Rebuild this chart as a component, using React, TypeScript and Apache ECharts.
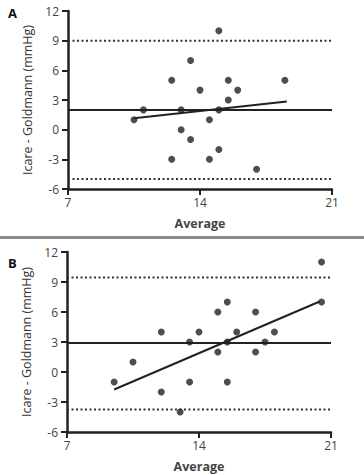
import React, { useEffect, useRef } from "react";
import * as echarts from "echarts";

// Panel A
const aAvg = [10.5, 11, 12.5, 12.5, 13, 13, 13.5, 13.5, 14, 14.5, 14.5, 15, 15, 15, 15.5, 15.5, 16, 17, 18.5];
const aDiff = [1, 2, 5, -3, 2, 0, 7, -1, 4, 1, -3, 10, 2, -2, 5, 3, 4, -4, 5];
const aMean = 2;
const aUpper = 9;
const aLower = -5;
const aRegX = [10.5, 18.6];
const aRegY = [1.15, 2.85];

// Panel B
const bAvg = [9.5, 10.5, 12, 12, 13, 13.5, 13.5, 14, 15, 15, 15.5, 15.5, 15.5, 16, 17, 17, 17.5, 18, 20.5, 20.5];
const bDiff = [-1, 1, 4, -2, -4, 3, -1, 4, 6, 2, 7, 3, -1, 4, 6, 2, 3, 4, 11, 7];
const bMean = 2.9;
const bUpper = 9.45;
const bLower = -3.75;
const bRegX = [9.5, 20.4];
const bRegY = [-1.75, 7.05];

const xRange = [7, 21];
const yRange = [-6, 12];
const panelLabels = ["A", "B"];
const xTitle = "Average";
const yTitle = "Icare - Goldmann (mmHg)";

const INK = "#222";
const FONT = "'Open Sans', 'Noto Sans', sans-serif";

function pair(xs: number[], ys: number[]) {
  return xs.map((x, i) => [x, ys[i]]);
}

function hline(v: number) {
  return [[xRange[0], v], [xRange[1], v]];
}

export default function App() {
  const ref = useRef<HTMLDivElement>(null);
  useEffect(() => {
    if (!ref.current) return;
    const chart = echarts.init(ref.current, undefined, { renderer: "svg" });
    const axisCommon = {
      axisLine: { show: true, onZero: false, lineStyle: { color: INK, width: 2.5 } },
      axisTick: { show: true, length: 6, lineStyle: { color: INK, width: 2 } },
      splitLine: { show: false },
      axisLabel: { color: "#444", fontSize: 12, fontFamily: FONT },
    };
    const xAxis = (gi: number) => ({
      ...axisCommon,
      type: "value",
      gridIndex: gi,
      min: xRange[0],
      max: xRange[1],
      interval: 7,
      axisLabel: { ...axisCommon.axisLabel, margin: 7 },
      name: xTitle,
      nameLocation: "middle",
      nameGap: 28,
      nameTextStyle: { color: "#444", fontSize: 12.5, fontWeight: "bold", fontFamily: FONT },
    });
    const yAxis = (gi: number) => ({
      ...axisCommon,
      type: "value",
      gridIndex: gi,
      min: yRange[0],
      max: yRange[1],
      interval: 3,
      axisLabel: { ...axisCommon.axisLabel, margin: 9 },
      name: yTitle,
      nameLocation: "middle",
      nameGap: 34,
      nameTextStyle: { color: "#333", fontSize: 12.5, fontFamily: FONT },
    });
    const lineSeries = (gi: number, data: number[][], dotted = false) => ({
      type: "line",
      xAxisIndex: gi,
      yAxisIndex: gi,
      data,
      symbol: "none",
      silent: true,
      lineStyle: dotted
        ? { color: "#333", width: 2, type: [2, 2.5] }
        : { color: INK, width: 2 },
    });
    const scatter = (gi: number, data: number[][]) => ({
      type: "scatter",
      xAxisIndex: gi,
      yAxisIndex: gi,
      data,
      symbol: "circle",
      symbolSize: 7,
      itemStyle: { color: INK },
      z: 5,
    });
    chart.setOption({
      animation: false,
      backgroundColor: "#fff",
      grid: [
        { left: 68, top: 11, width: 264, height: 178 },
        { left: 67, top: 252, width: 264, height: 180 },
      ],
      xAxis: [xAxis(0), xAxis(1)],
      yAxis: [yAxis(0), yAxis(1)],
      series: [
        lineSeries(0, hline(aMean)),
        lineSeries(0, hline(aUpper), true),
        lineSeries(0, hline(aLower), true),
        lineSeries(0, pair(aRegX, aRegY)),
        scatter(0, pair(aAvg, aDiff)),
        lineSeries(1, hline(bMean)),
        lineSeries(1, hline(bUpper), true),
        lineSeries(1, hline(bLower), true),
        lineSeries(1, pair(bRegX, bRegY)),
        scatter(1, pair(bAvg, bDiff)),
      ],
      graphic: [
        {
          type: "text",
          left: 8,
          top: 6,
          style: { text: panelLabels[0], fontSize: 13, fontWeight: "bold", fill: "#111", fontFamily: FONT },
        },
        {
          type: "text",
          left: 8,
          top: 256,
          style: { text: panelLabels[1], fontSize: 13, fontWeight: "bold", fill: "#111", fontFamily: FONT },
        },
        {
          type: "rect",
          shape: { x: 0, y: 236, width: 364, height: 3 },
          style: { fill: "#8c8c8c" },
        },
      ],
    });
    return () => chart.dispose();
  }, []);
  return (
    <div
      ref={ref}
      style={{ position: "fixed", left: 0, top: 0, width: 364, height: 475, background: "#fff" }}
    />
  );
}
